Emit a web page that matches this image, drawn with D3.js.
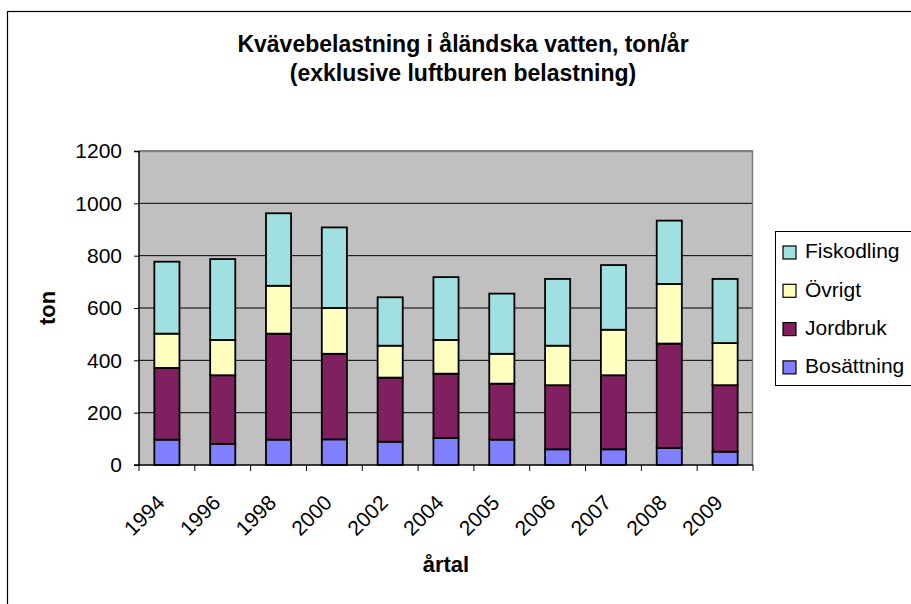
<!DOCTYPE html>
<html>
<head>
<meta charset="utf-8">
<script src="https://cdn.jsdelivr.net/npm/d3@7"></script>
<style>
  body { margin: 0; background: #fff; }
  svg { display: block; font-family: "Liberation Sans", Arial, sans-serif; }
</style>
</head>
<body>
<div id="chart"></div>
<script>
// data (ton/år)
var years = ["1994", "1996", "1998", "2000", "2002", "2004", "2005", "2006", "2007", "2008", "2009"];
var bosattning = [97, 81, 97, 98, 89, 103, 97, 60, 60, 65, 51];
var jordbruk = [274, 262, 405, 327, 245, 246, 214, 245, 283, 399, 254];
var ovrigt = [131, 135, 183, 175, 122, 129, 114, 151, 174, 228, 161];
var fiskodling = [275, 309, 277, 308, 185, 240, 230, 255, 247, 242, 245];
var yTicks = [0, 200, 400, 600, 800, 1000, 1200];
var seriesNames = ["Bosättning", "Jordbruk", "Övrigt", "Fiskodling"];
var seriesColors = ["#8080ff", "#802060", "#ffffc0", "#a0e0e0"];

makePlot();

function makePlot() {
    var svgWidth = 911;
    var svgHeight = 604;
    var margin = { top: 151, right: 158, bottom: 139, left: 139 };
    var chart_width = svgWidth - margin.left - margin.right;
    var chart_height = svgHeight - margin.top - margin.bottom;

    var svg = d3.select("#chart")
        .append("svg")
        .attr("width", svgWidth)
        .attr("height", svgHeight);

    // outer chart frame (runs off the right and bottom edges)
    svg.append("rect")
        .attr("x", 7.5).attr("y", 11.5)
        .attr("width", 1000).attr("height", 1000)
        .attr("fill", "none").attr("stroke", "#000").attr("stroke-width", 1.2);

    // title
    var title = svg.append("text")
        .attr("text-anchor", "middle")
        .attr("font-weight", "bold")
        .attr("font-size", "23px");
    title.append("tspan").attr("x", 463).attr("y", 52).text("Kvävebelastning i åländska vatten, ton/år");
    title.append("tspan").attr("x", 463).attr("y", 81).text("(exklusive luftburen belastning)");

    var chartGroup = svg.append("g")
        .attr("transform", `translate(${margin.left}, ${margin.top})`);

    // stack the data
    var rows = years.map(function(y, i) {
        return { year: y, "Bosättning": bosattning[i], "Jordbruk": jordbruk[i], "Övrigt": ovrigt[i], "Fiskodling": fiskodling[i] };
    });
    var stacked = d3.stack().keys(seriesNames)(rows);

    var xScale = d3.scaleBand()
        .domain(years)
        .range([0, chart_width])
        .paddingInner(0.55)
        .paddingOuter(0.275);
    var xCat = d3.scaleBand().domain(years).range([0, chart_width]);
    var yScale = d3.scaleLinear()
        .domain([0, 1200])
        .range([chart_height, 0]);

    // plot background
    chartGroup.append("rect")
        .attr("width", chart_width).attr("height", chart_height)
        .attr("fill", "#c0c0c0");

    // gridlines
    chartGroup.selectAll(".grid")
        .data(yTicks.slice(1))
        .enter().append("line")
        .attr("x1", 0).attr("x2", chart_width)
        .attr("y1", d => yScale(d)).attr("y2", d => yScale(d))
        .attr("stroke", "#000").attr("stroke-width", 1);

    // plot border top/right
    chartGroup.append("path")
        .attr("d", `M0,0.5H${chart_width - 0.5}V${chart_height}`)
        .attr("fill", "none").attr("stroke", "#808080").attr("stroke-width", 1.5);

    // bars
    stacked.forEach(function(layer, k) {
        chartGroup.append("g")
            .selectAll("rect")
            .data(layer)
            .enter().append("rect")
            .attr("x", d => xScale(d.data.year))
            .attr("y", d => yScale(d[1]))
            .attr("width", xScale.bandwidth())
            .attr("height", d => yScale(d[0]) - yScale(d[1]))
            .attr("fill", seriesColors[k])
            .attr("stroke", "#000")
            .attr("stroke-width", 1.8);
    });

    // axes
    var leftAxis = d3.axisLeft(yScale).tickValues(yTicks).tickFormat(d3.format("d")).tickSize(5).tickPadding(12);
    var yAxisG = chartGroup.append("g").call(leftAxis);
    yAxisG.select(".domain").attr("stroke", "#000").attr("stroke-width", 1.5).attr("d", `M-5,0.5H0V${chart_height}H-5`);
    yAxisG.selectAll("text").attr("font-size", "21px").attr("fill", "#000").attr("font-family", "Liberation Sans, Arial, sans-serif");

    var xAxisG = chartGroup.append("g")
        .attr("transform", `translate(0, ${chart_height})`);
    xAxisG.append("line")
        .attr("x1", 0).attr("x2", chart_width)
        .attr("stroke", "#000").attr("stroke-width", 1.5);
    var boundaries = years.map(y => xCat(y)).concat([chart_width]);
    xAxisG.selectAll(".xtick")
        .data(boundaries)
        .enter().append("line")
        .attr("x1", d => d).attr("x2", d => d)
        .attr("y1", 0).attr("y2", 6)
        .attr("stroke", "#000").attr("stroke-width", 1);
    xAxisG.selectAll(".xlabel")
        .data(years)
        .enter().append("text")
        .attr("transform", d => `translate(${xCat(d) + xCat.bandwidth() / 2 - 1}, 39) rotate(-45)`)
        .attr("text-anchor", "end")
        .attr("font-size", "21px")
        .text(d => d);

    // axis titles
    svg.append("text")
        .attr("x", margin.left + chart_width / 2)
        .attr("y", 572)
        .attr("text-anchor", "middle")
        .attr("font-weight", "bold")
        .attr("font-size", "22px")
        .text("årtal");
    svg.append("text")
        .attr("transform", "translate(55, 308) rotate(-90)")
        .attr("text-anchor", "middle")
        .attr("font-weight", "bold")
        .attr("font-size", "22px")
        .text("ton");

    // legend
    var legend = svg.append("g").attr("transform", "translate(775, 231)");
    legend.append("rect")
        .attr("x", 0.5).attr("y", 0.5)
        .attr("width", 200).attr("height", 154)
        .attr("fill", "#fff").attr("stroke", "#000").attr("stroke-width", 1);
    var legendOrder = seriesNames.slice().reverse();
    var legendColors = seriesColors.slice().reverse();
    legendOrder.forEach(function(name, i) {
        var cy = 20 + i * 38.3;
        legend.append("rect")
            .attr("x", 8).attr("y", cy - 5)
            .attr("width", 13).attr("height", 13)
            .attr("fill", legendColors[i]).attr("stroke", "#000").attr("stroke-width", 1.2);
        legend.append("text")
            .attr("x", 30).attr("y", cy)
            .attr("dy", "0.35em")
            .attr("font-size", "21px")
            .text(name);
    });
}
</script>
</body>
</html>
